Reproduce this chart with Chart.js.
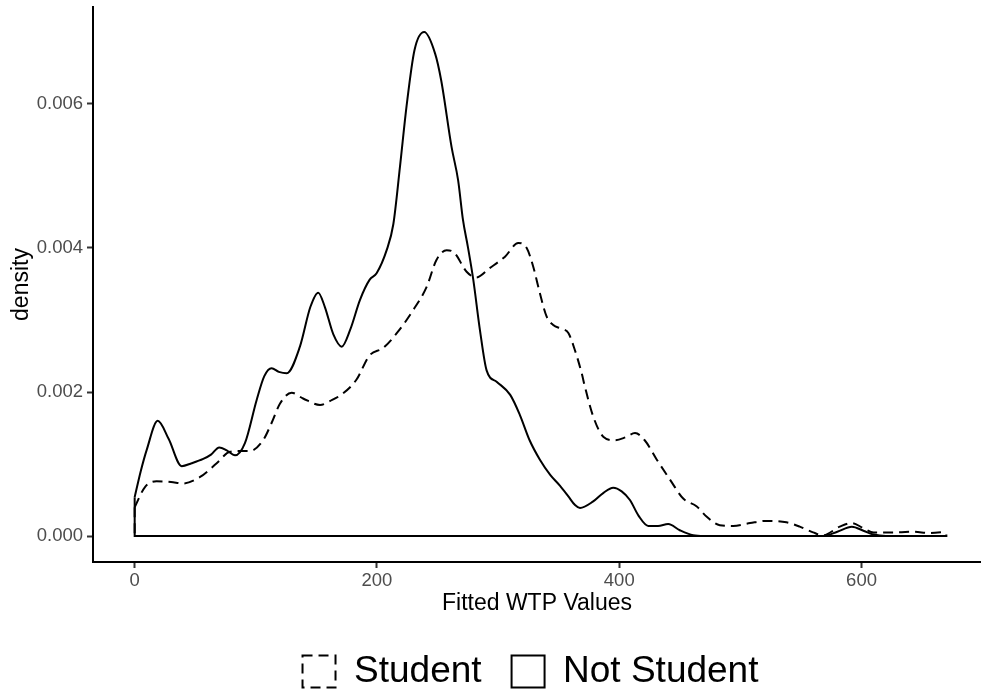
<!DOCTYPE html>
<html>
<head>
<meta charset="utf-8">
<script src="https://cdn.jsdelivr.net/npm/chart.js@4/dist/chart.umd.min.js"></script>
<style>
html,body{margin:0;padding:0;background:#fff;}
#wrap{width:981px;height:692px;}
</style>
</head>
<body>
<div id="wrap"><canvas id="c" width="981" height="692"></canvas></div>
<script>
// ---- data ----
const seriesNames = ["Student", "Not Student"];

const studentX = [0, 8.5, 18, 30, 40, 54, 67.7, 78.7, 88, 95, 106, 113, 120, 129.6, 139, 153, 163, 172, 183, 194, 205, 217, 230, 241, 249, 257.5, 264, 274, 282, 293, 305.7, 316.6, 323.6, 329, 334.5, 340, 345.5, 352, 358, 363.4, 369, 371.7, 378.5, 386.8, 396.4, 405, 413, 421, 431, 442, 452.8, 464, 472, 483, 494, 508, 521.7, 538, 549, 560, 568, 582, 592, 601.4, 610, 629, 643, 656, 670];
const studentY = [0.00040, 0.00068, 0.00076, 0.00075, 0.00073, 0.00082, 0.00101, 0.00117, 0.00118, 0.00118, 0.00133, 0.00157, 0.00184, 0.00199, 0.00191, 0.00182, 0.00189, 0.00198, 0.00217, 0.00251, 0.00261, 0.00283, 0.00314, 0.00346, 0.00383, 0.00397, 0.00393, 0.00367, 0.00359, 0.00372, 0.00388, 0.00407, 0.00400, 0.00374, 0.00337, 0.00305, 0.00293, 0.00288, 0.00282, 0.00258, 0.00226, 0.00207, 0.00166, 0.00138, 0.00133, 0.00137, 0.00143, 0.00133, 0.00106, 0.00078, 0.00052, 0.00041, 0.00027, 0.00015, 0.00014, 0.00018, 0.00021, 0.00019, 0.00013, 0.00005, 0.00001, 0.00013, 0.00018, 0.00011, 0.00005, 0.00005, 0.00006, 0.00004, 0.00006];

const notStudentX = [0, 5, 10, 19, 28, 38.8, 47, 56.6, 63, 69.8, 76, 82.8, 91, 100.7, 107, 113, 119, 125.5, 136.4, 145, 151.5, 157, 164, 170.9, 178, 186, 194, 199.7, 208, 213.5, 219, 224.5, 231, 239, 248, 253, 261.6, 267, 271, 275, 279.5, 285, 290.5, 299, 310, 318, 326, 334.5, 343, 351, 358, 363.5, 367.6, 378.5, 387, 395, 402, 408.8, 416, 424, 432, 440.4, 450, 461, 470, 560, 568, 580, 592, 602, 610, 620, 670];
const notStudentY = [0.00054, 0.00090, 0.00120, 0.00160, 0.00135, 0.00097, 0.00101, 0.00107, 0.00113, 0.00123, 0.00119, 0.00112, 0.00129, 0.00189, 0.00222, 0.00233, 0.00228, 0.00226, 0.00263, 0.00318, 0.00338, 0.00318, 0.00280, 0.00263, 0.00287, 0.00328, 0.00356, 0.00365, 0.00397, 0.00433, 0.00513, 0.00598, 0.00675, 0.00700, 0.00670, 0.00633, 0.00540, 0.00494, 0.00439, 0.00402, 0.00356, 0.00286, 0.00230, 0.00214, 0.00196, 0.00168, 0.00133, 0.00106, 0.00085, 0.00070, 0.00055, 0.00043, 0.00039, 0.00048, 0.00060, 0.00067, 0.00062, 0.00050, 0.00028, 0.00014, 0.00014, 0.000167, 0.00008, 0.00001, 0, 0, 0, 0.00006, 0.00013, 0.00007, 0.00002, 0, 0];

const xTicks = [0, 200, 400, 600];
const yTicks = [0, 0.002, 0.004, 0.006];
const xTitle = "Fitted WTP Values";
const yTitle = "density";

// ---- helpers ----
function pts(xs, ys){ return xs.map((x,i)=>({x:x, y:ys[i]})); }
function outline(xs, ys){
  const n = xs.length - 1;
  return [{x:xs[0], y:ys[0]}, {x:xs[0], y:0}, {x:xs[n], y:0}, {x:xs[n], y:ys[n]}];
}

const FONT = "'Liberation Sans', Arial, sans-serif";
const dash = [10, 6];

const shiftLegend = {
  id: 'shiftLegend',
  afterLayout(chart){
    const lg = chart.legend;
    if (lg){ lg.left += 40; lg.right += 40; lg.top += 8; lg.bottom += 8; }
  }
};

new Chart(document.getElementById('c'), {
  type: 'scatter',
  data: {
    datasets: [
      { label: seriesNames[0], data: pts(studentX, studentY), showLine: true, borderColor: '#000', backgroundColor: 'rgba(0,0,0,0)', borderWidth: 2, borderDash: dash, pointRadius: 0, cubicInterpolationMode: 'monotone' },
      { label: seriesNames[1], data: pts(notStudentX, notStudentY), showLine: true, borderColor: '#000', backgroundColor: 'rgba(0,0,0,0)', borderWidth: 2, pointRadius: 0, cubicInterpolationMode: 'monotone' },
      { label: '_o1', data: outline(studentX, studentY), showLine: true, borderColor: '#000', borderWidth: 2, borderDash: dash, pointRadius: 0, tension: 0 },
      { label: '_o2', data: outline(notStudentX, notStudentY), showLine: true, borderColor: '#000', borderWidth: 2, pointRadius: 0, tension: 0 }
    ]
  },
  options: {
    responsive: false,
    animation: false,
    devicePixelRatio: 1,
    layout: { padding: { top: 7, right: 0, bottom: 0, left: 0 } },
    plugins: {
      tooltip: { enabled: false },
      legend: {
        position: 'bottom',
        labels: {
          filter: (item) => !item.text.startsWith('_'),
          boxWidth: 33, boxHeight: 32,
          padding: 30,
          color: '#000',
          font: { family: FONT, size: 37 }
        }
      }
    },
    scales: {
      x: {
        type: 'linear',
        min: -34.4, max: 698.6,
        afterBuildTicks: (s) => { s.ticks = xTicks.map(v => ({value: v})); },
        afterFit: (s) => { s.height = 53; },
        grid: { display: true, drawOnChartArea: false, drawTicks: true, tickLength: 6, tickWidth: 2, tickColor: '#333' },
        border: { display: true, color: '#000', width: 2 },
        ticks: { color: '#4d4d4d', font: { family: FONT, size: 18.5 }, padding: 2, maxRotation: 0, callback: (v) => String(v) },
        title: { display: true, text: xTitle, color: '#000', font: { family: FONT, size: 23, lineHeight: 1 }, padding: { top: 0, bottom: 0 } }
      },
      y: {
        type: 'linear',
        min: -0.000361, max: 0.007347,
        afterBuildTicks: (s) => { s.ticks = yTicks.map(v => ({value: v})); },
        afterFit: (s) => { s.width = 93; },
        grid: { display: true, drawOnChartArea: false, drawTicks: true, tickLength: 6, tickWidth: 2, tickColor: '#333' },
        border: { display: true, color: '#000', width: 2 },
        ticks: { color: '#4d4d4d', font: { family: FONT, size: 18.5, lineHeight: 0.3 }, padding: 4, callback: (v) => Number(v).toFixed(3) },
        title: { display: true, text: yTitle, color: '#000', font: { family: FONT, size: 23 }, padding: { top: 8, bottom: 0 } }
      }
    }
  },
  plugins: [shiftLegend]
});
</script>
</body>
</html>
